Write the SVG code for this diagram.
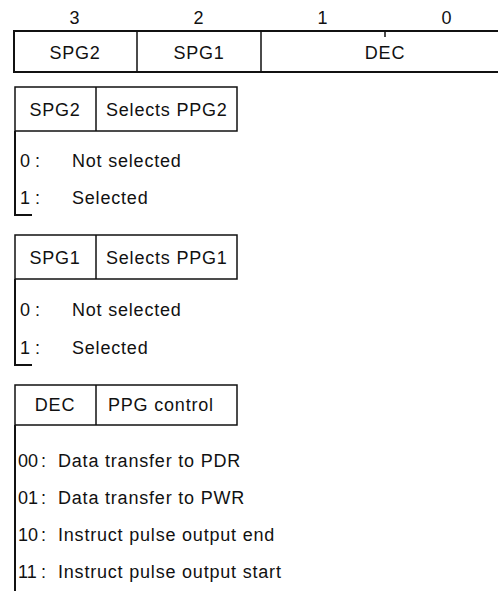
<svg xmlns="http://www.w3.org/2000/svg" width="498" height="591" viewBox="0 0 498 591">
<style>
text{font-family:"Liberation Sans","DejaVu Sans",sans-serif;font-size:18px;fill:#111;letter-spacing:0.8px}
.c{text-anchor:middle}
.d{letter-spacing:0}
.b{stroke:#111;stroke-width:2;fill:none}
.t{stroke:#111;stroke-width:1.5;fill:none}
</style>
<rect width="498" height="591" fill="#fff"/>
<g id="register">
<text class="c" x="75" y="24">3</text>
<text class="c" x="199" y="24">2</text>
<text class="c" x="323" y="24">1</text>
<text class="c" x="447" y="24">0</text>
<path class="b" d="M498,31 H14 V72 H498"/>
<path class="t" d="M137,31 V72 M261,31 V72 M385,31 V37"/>
<text class="c" x="75" y="59">SPG2</text>
<text class="c" x="199" y="59">SPG1</text>
<text class="c" x="385" y="59">DEC</text>
</g>
<g id="spg2">
<rect class="t" x="15" y="87" width="222" height="44"/>
<path class="t" d="M96,87 V131"/>
<text class="c" x="55" y="116">SPG2</text>
<text x="106" y="116">Selects PPG2</text>
<path class="b" d="M15,131 V215 H32"/>
<text x="20" y="167">0</text><text x="35" y="167">:</text><text x="72" y="167">Not selected</text>
<text x="20" y="204">1</text><text x="35" y="204">:</text><text x="72" y="204">Selected</text>
</g>
<g id="spg1">
<rect class="t" x="15" y="235" width="222" height="44"/>
<path class="t" d="M96,235 V279"/>
<text class="c" x="55" y="264">SPG1</text>
<text x="106" y="264">Selects PPG1</text>
<path class="b" d="M15,279 V365 H32"/>
<text x="20" y="316">0</text><text x="35" y="316">:</text><text x="72" y="316">Not selected</text>
<text x="20" y="354">1</text><text x="35" y="354">:</text><text x="72" y="354">Selected</text>
</g>
<g id="dec">
<rect class="t" x="15" y="385" width="222" height="40"/>
<path class="t" d="M96,385 V425"/>
<text class="c" x="55" y="411">DEC</text>
<text x="108" y="411">PPG control</text>
<path class="b" d="M15,425 V591"/>
<text class="d" x="18" y="467">00</text><text x="41" y="467">:</text><text x="58" y="467">Data transfer to PDR</text>
<text class="d" x="18" y="504">01</text><text x="41" y="504">:</text><text x="58" y="504">Data transfer to PWR</text>
<text class="d" x="18" y="541">10</text><text x="41" y="541">:</text><text x="58" y="541">Instruct pulse output end</text>
<text class="d" x="18" y="578">11</text><text x="41" y="578">:</text><text x="58" y="578">Instruct pulse output start</text>
</g>
</svg>
